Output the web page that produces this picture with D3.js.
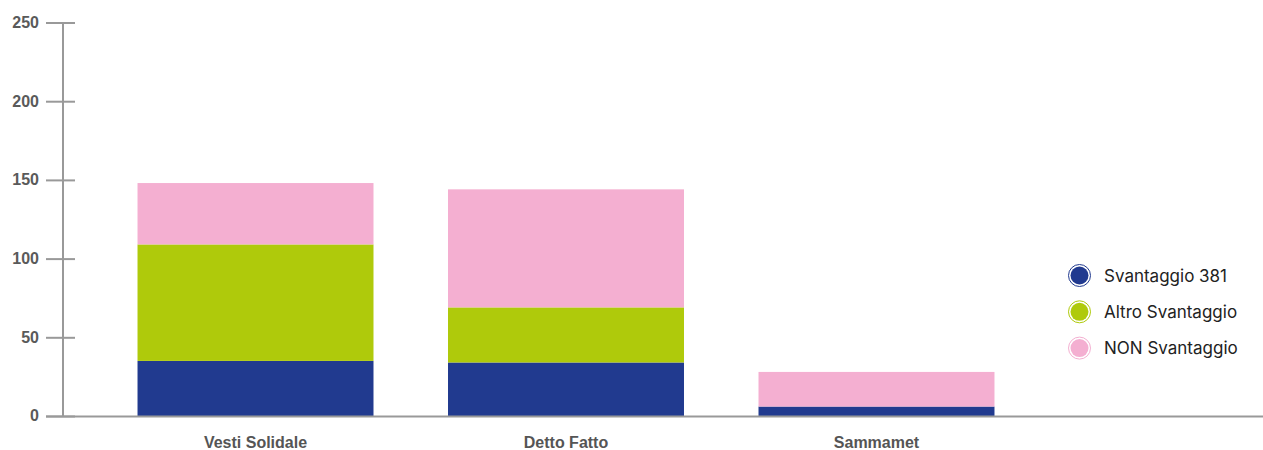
<!DOCTYPE html>
<html>
<head>
<meta charset="utf-8">
<script src="https://cdn.jsdelivr.net/npm/d3@7"></script>
<style>
  html, body { margin: 0; padding: 0; background: #fff; }
  svg { display: block; }
</style>
</head>
<body>
<svg id="chart" width="1263" height="450"></svg>
<script>
const categories = ["Vesti Solidale", "Detto Fatto", "Sammamet"];
const seriesNames = ["Svantaggio 381", "Altro Svantaggio", "NON Svantaggio"];
const svantaggio381 = [35, 34, 6];
const altroSvantaggio = [74, 35, 0];
const nonSvantaggio = [39, 75, 22];
const yTicks = [0, 50, 100, 150, 200, 250];
const colors = ["#213a8f", "#afca0b", "#f4afd1"];

const rows = categories.map((c, i) => ({
  cat: c,
  "Svantaggio 381": svantaggio381[i],
  "Altro Svantaggio": altroSvantaggio[i],
  "NON Svantaggio": nonSvantaggio[i]
}));

const svg = d3.select("#chart");
const x0 = 63, yBase = 416, yTop = 22.5;

const x = d3.scaleBand().domain(categories).range([x0, 1069]).paddingInner(0.24).paddingOuter(0.24);
const y = d3.scaleLinear().domain([0, 250]).range([yBase, yTop]);
const color = d3.scaleOrdinal().domain(seriesNames).range(colors);

const stack = d3.stack().keys(seriesNames)(rows);

// bars
svg.append("g").selectAll("g").data(stack).join("g")
  .attr("fill", d => color(d.key))
  .selectAll("rect").data(d => d).join("rect")
  .attr("x", d => x(d.data.cat))
  .attr("width", x.bandwidth())
  .attr("y", d => y(d[1]))
  .attr("height", d => y(d[0]) - y(d[1]));

// y axis
const yAxis = d3.axisLeft(y).tickValues(yTicks).tickSize(0).tickPadding(0);
const gy = svg.append("g").attr("transform", `translate(${x0},0)`).call(yAxis);
gy.select(".domain").remove();
gy.selectAll(".tick text").remove();
gy.append("line").attr("x1", 0).attr("x2", 0).attr("y1", y(250)).attr("y2", y(0))
  .attr("stroke", "#999").attr("stroke-width", 2);
gy.selectAll(".tick").append("line").attr("x1", -17).attr("x2", 12)
  .attr("stroke", "#999").attr("stroke-width", 2);
gy.selectAll(".tick").append("text")
  .attr("x", -24).attr("dy", "0.3em")
  .attr("text-anchor", "end")
  .attr("font-family", "'Liberation Sans', Arial, sans-serif")
  .attr("font-size", 16).attr("font-weight", 700).attr("fill", "#5a5a5a")
  .text(d => d);

// baseline
svg.append("line").attr("x1", 46).attr("x2", 1263).attr("y1", yBase + 0.5).attr("y2", yBase + 0.5)
  .attr("stroke", "#999").attr("stroke-width", 2);

// x axis labels
const xAxis = d3.axisBottom(x).tickSize(0).tickPadding(0);
const gx = svg.append("g").attr("transform", `translate(0,${yBase})`).call(xAxis);
gx.select(".domain").remove();
gx.selectAll(".tick text")
  .attr("y", 32).attr("dy", 0)
  .attr("font-family", "'Liberation Sans', Arial, sans-serif")
  .attr("font-size", 16).attr("font-weight", 700).attr("fill", "#555");

// legend
const legend = svg.append("g").attr("transform", "translate(1079.5,275.5)");
const li = legend.selectAll("g").data(seriesNames).join("g")
  .attr("transform", (d, i) => `translate(0,${i * 36.3})`);
li.append("circle").attr("r", 11).attr("fill", "#fff").attr("stroke", d => color(d)).attr("stroke-width", 1);
li.append("circle").attr("r", 9).attr("fill", d => color(d));
li.append("text").attr("x", 24.5).attr("dy", "0.36em")
  .attr("font-family", "Inter, 'Noto Sans', sans-serif")
  .attr("font-size", 17).attr("fill", "#222")
  .text(d => d);
</script>
</body>
</html>
